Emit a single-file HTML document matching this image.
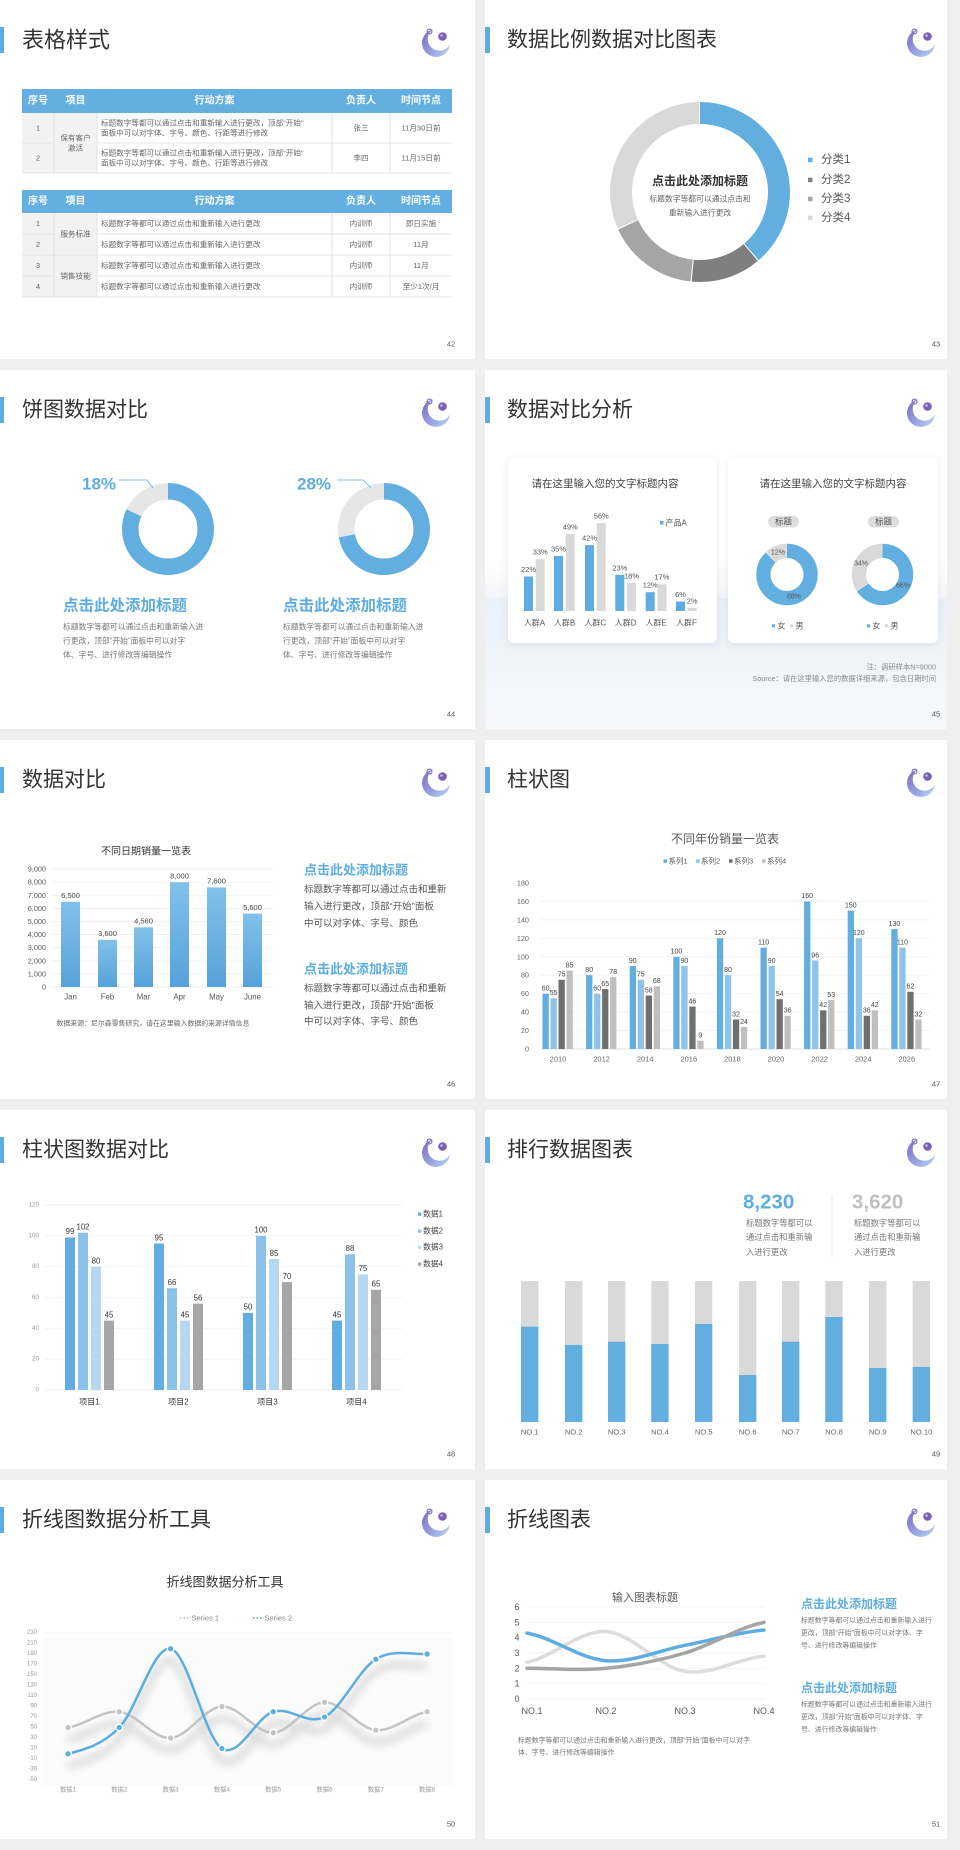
<!DOCTYPE html>
<html><head><meta charset="utf-8">
<style>
html,body{margin:0;padding:0;background:#efefef;}
svg{display:block;font-family:"Liberation Sans","Noto Sans CJK SC",sans-serif;}
.c{dominant-baseline:central;}
.m{text-anchor:middle;}
.e{text-anchor:end;}
</style></head>
<body>
<svg width="960" height="1850" viewBox="0 0 960 1850" xmlns="http://www.w3.org/2000/svg">
<defs>
  <linearGradient id="lg" x1="0" y1="0" x2="1" y2="1">
    <stop offset="0" stop-color="#7a66c2"/><stop offset="0.6" stop-color="#9aa6e0"/><stop offset="1" stop-color="#bcd9f5"/>
  </linearGradient>
  <linearGradient id="bg5" x1="0" y1="0" x2="0" y2="1">
    <stop offset="0" stop-color="#82c1ea"/><stop offset="1" stop-color="#56a2da"/>
  </linearGradient>
  <linearGradient id="bg4" x1="0" y1="0" x2="0" y2="1">
    <stop offset="0" stop-color="#eaf0f7"/><stop offset="1" stop-color="#f7f9fc"/>
  </linearGradient>
  <linearGradient id="bg4t" x1="0" y1="0" x2="0" y2="1">
    <stop offset="0" stop-color="#ffffff"/><stop offset="1" stop-color="#f3f5f8"/>
  </linearGradient>
  <filter id="sh" x="-10%" y="-10%" width="120%" height="125%">
    <feDropShadow dx="0" dy="2" stdDeviation="4" flood-color="#000" flood-opacity="0.08"/>
  </filter>
  <filter id="blur" x="-10%" y="-30%" width="120%" height="160%">
    <feGaussianBlur stdDeviation="4"/>
  </filter>
  <g id="logo">
    <circle cx="436" cy="43" r="14" fill="url(#lg)"/>
    <circle cx="439.5" cy="39" r="11.8" fill="#fff"/>
    <circle cx="429.5" cy="31.5" r="2.4" fill="none" stroke="#8473c6" stroke-width="1.3"/>
    <circle cx="442.5" cy="36.5" r="4.3" fill="#7a5fb6"/>
    <circle cx="441.5" cy="35.5" r="1.3" fill="#c9b8ea"/>
  </g>
</defs>

<!-- ================= SLIDE 1 : 表格样式 ================= -->
<g transform="translate(0,0)">
  <rect width="475" height="359" fill="#fff"/>
  <rect x="0" y="27" width="4" height="26" fill="#5dade2"/>
  <text x="22" y="40" class="c" font-size="22" fill="#333">表格样式</text>
  <use href="#logo"/>
  <text x="451" y="344" class="c m" font-size="7.5" fill="#555">42</text>

  <!-- table 1 -->
  <rect x="22" y="89" width="430" height="24" fill="#64afe2"/>
  <g font-size="10" font-weight="bold" fill="#fff" class="c m">
    <text x="38" y="101">序号</text><text x="75.5" y="101">项目</text><text x="214.5" y="101">行动方案</text>
    <text x="361" y="101">负责人</text><text x="421" y="101">时间节点</text>
  </g>
  <rect x="22" y="113" width="75" height="60" fill="#f2f2f2"/>
  <g stroke="#dcdcdc" stroke-width="0.8">
    <line x1="22" y1="143" x2="54" y2="143"/><line x1="97" y1="143" x2="452" y2="143"/>
    <line x1="22" y1="173" x2="452" y2="173"/>
    <line x1="54" y1="113" x2="54" y2="173"/><line x1="97" y1="113" x2="97" y2="173"/>
    <line x1="332" y1="113" x2="332" y2="173"/><line x1="390" y1="113" x2="390" y2="173"/>
  </g>
  <g font-size="7.6" fill="#666" class="c">
    <text x="38" y="128" class="m">1</text><text x="38" y="158" class="m">2</text>
    <text x="75.5" y="138" class="m">保有客户</text><text x="75.5" y="148" class="m">激活</text>
    <text x="101" y="123">标题数字等都可以通过点击和重新输入进行更改，顶部“开始”</text>
    <text x="101" y="133">面板中可以对字体、字号、颜色、行距等进行修改</text>
    <text x="101" y="153">标题数字等都可以通过点击和重新输入进行更改，顶部“开始”</text>
    <text x="101" y="163">面板中可以对字体、字号、颜色、行距等进行修改</text>
    <text x="361" y="128" class="m">张三</text><text x="361" y="158" class="m">李四</text>
    <text x="421" y="128" class="m">11月30日前</text><text x="421" y="158" class="m">11月15日前</text>
  </g>

  <!-- table 2 -->
  <rect x="22" y="190" width="430" height="23" fill="#64afe2"/>
  <g font-size="10" font-weight="bold" fill="#fff" class="c m">
    <text x="38" y="201.5">序号</text><text x="75.5" y="201.5">项目</text><text x="214.5" y="201.5">行动方案</text>
    <text x="361" y="201.5">负责人</text><text x="421" y="201.5">时间节点</text>
  </g>
  <rect x="22" y="213" width="75" height="84" fill="#f2f2f2"/>
  <g stroke="#dcdcdc" stroke-width="0.8">
    <line x1="22" y1="234" x2="54" y2="234"/><line x1="97" y1="234" x2="452" y2="234"/>
    <line x1="22" y1="255" x2="452" y2="255"/>
    <line x1="22" y1="276" x2="54" y2="276"/><line x1="97" y1="276" x2="452" y2="276"/>
    <line x1="22" y1="297" x2="452" y2="297"/>
    <line x1="54" y1="213" x2="54" y2="297"/><line x1="97" y1="213" x2="97" y2="297"/>
    <line x1="332" y1="213" x2="332" y2="297"/><line x1="390" y1="213" x2="390" y2="297"/>
  </g>
  <g font-size="7.6" fill="#666" class="c">
    <text x="38" y="223.5" class="m">1</text><text x="38" y="244.5" class="m">2</text>
    <text x="38" y="265.5" class="m">3</text><text x="38" y="286.5" class="m">4</text>
    <text x="75.5" y="234" class="m">服务标准</text><text x="75.5" y="276" class="m">销售技能</text>
    <text x="101" y="223.5">标题数字等都可以通过点击和重新输入进行更改</text>
    <text x="101" y="244.5">标题数字等都可以通过点击和重新输入进行更改</text>
    <text x="101" y="265.5">标题数字等都可以通过点击和重新输入进行更改</text>
    <text x="101" y="286.5">标题数字等都可以通过点击和重新输入进行更改</text>
    <text x="361" y="223.5" class="m">内训师</text><text x="361" y="244.5" class="m">内训师</text>
    <text x="361" y="265.5" class="m">内训师</text><text x="361" y="286.5" class="m">内训师</text>
    <text x="421" y="223.5" class="m">即日实施</text><text x="421" y="244.5" class="m">11月</text>
    <text x="421" y="265.5" class="m">11月</text><text x="421" y="286.5" class="m">至少1次/月</text>
  </g>
</g>

<!-- ================= SLIDE 2 : 数据比例数据对比图表 ================= -->
<g transform="translate(485,0)">
  <rect width="462" height="359" fill="#fff"/>
  <rect x="0" y="27" width="5" height="26" fill="#5dade2"/>
  <text x="22" y="40" class="c" font-size="21" fill="#333">数据比例数据对比图表</text>
  <use href="#logo"/>
  <text x="451" y="344" class="c m" font-size="7.5" fill="#555">43</text>

  <g transform="rotate(-90 215 192)" fill="none" stroke-width="22">
    <circle cx="215" cy="192" r="79" stroke="#62aee0" stroke-dasharray="192 1000" stroke-dashoffset="0"/>
    <circle cx="215" cy="192" r="79" stroke="#7f7f7f" stroke-dasharray="62.4 1000" stroke-dashoffset="-193"/>
    <circle cx="215" cy="192" r="79" stroke="#a5a5a5" stroke-dasharray="81.7 1000" stroke-dashoffset="-256.5"/>
    <circle cx="215" cy="192" r="79" stroke="#d9d9d9" stroke-dasharray="156.2 1000" stroke-dashoffset="-339.2"/>
  </g>
  <text x="215" y="181" class="c m" font-size="12" font-weight="bold" fill="#333">点击此处添加标题</text>
  <text x="215" y="199" class="c m" font-size="7.8" fill="#666">标题数字等都可以通过点击和</text>
  <text x="215" y="213" class="c m" font-size="7.8" fill="#666">重新输入进行更改</text>

  <rect x="323" y="157.7" width="4.5" height="4.5" fill="#62aee0"/>
  <rect x="323" y="177.7" width="4.5" height="4.5" fill="#7f7f7f"/>
  <rect x="323" y="196.7" width="4.5" height="4.5" fill="#a5a5a5"/>
  <rect x="323" y="215.7" width="4.5" height="4.5" fill="#d9d9d9"/>
  <g font-size="11.5" fill="#595959" class="c">
    <text x="336" y="160">分类1</text><text x="336" y="180">分类2</text>
    <text x="336" y="199">分类3</text><text x="336" y="218">分类4</text>
  </g>
</g>

<!-- ================= SLIDE 3 : 饼图数据对比 ================= -->
<g transform="translate(0,370)">
  <rect width="475" height="359" fill="#fff"/>
  <rect x="0" y="27" width="4" height="26" fill="#5dade2"/>
  <text x="22" y="40" class="c" font-size="21" fill="#333">饼图数据对比</text>
  <use href="#logo"/>
  <text x="451" y="344" class="c m" font-size="7.5" fill="#555">44</text>

  <g transform="rotate(-90 168 159)" fill="none" stroke-width="16.5">
    <circle cx="168" cy="159" r="37.75" stroke="#62aee0" stroke-dasharray="194.5 1000"/>
    <circle cx="168" cy="159" r="37.75" stroke="#e6e6e6" stroke-dasharray="42.7 1000" stroke-dashoffset="-194.5"/>
  </g>
  <g transform="rotate(-90 384 159)" fill="none" stroke-width="16.5">
    <circle cx="384" cy="159" r="37.75" stroke="#62aee0" stroke-dasharray="170.8 1000"/>
    <circle cx="384" cy="159" r="37.75" stroke="#e6e6e6" stroke-dasharray="66.4 1000" stroke-dashoffset="-170.8"/>
  </g>
  <text x="82" y="114" class="c" font-size="17" font-weight="bold" fill="#5dade2">18%</text>
  <polyline points="119,110 147,110 153,118" fill="none" stroke="#5dade2" stroke-width="0.8"/>
  <text x="297" y="114" class="c" font-size="17" font-weight="bold" fill="#5dade2">28%</text>
  <polyline points="337,110 363,110 371,118" fill="none" stroke="#5dade2" stroke-width="0.8"/>

  <text x="63" y="236" class="c" font-size="15.5" font-weight="bold" fill="#5dade2">点击此处添加标题</text>
  <g font-size="7.8" fill="#777" class="c">
    <text x="63" y="257">标题数字等都可以通过点击和重新输入进</text>
    <text x="63" y="271">行更改，顶部“开始”面板中可以对字</text>
    <text x="63" y="285">体、字号、进行修改等编辑操作</text>
  </g>
  <text x="283" y="236" class="c" font-size="15.5" font-weight="bold" fill="#5dade2">点击此处添加标题</text>
  <g font-size="7.8" fill="#777" class="c">
    <text x="283" y="257">标题数字等都可以通过点击和重新输入进</text>
    <text x="283" y="271">行更改，顶部“开始”面板中可以对字</text>
    <text x="283" y="285">体、字号、进行修改等编辑操作</text>
  </g>
</g>

<!-- ================= SLIDE 4 : 数据对比分析 ================= -->
<g transform="translate(485,370)">
  <rect width="462" height="359" fill="#fff"/>
  <rect x="0" y="190" width="462" height="38" fill="url(#bg4t)"/>
  <rect x="0" y="228" width="462" height="131" fill="url(#bg4)"/>
  <rect x="0" y="27" width="5" height="26" fill="#5dade2"/>
  <text x="22" y="40" class="c" font-size="21" fill="#333">数据对比分析</text>
  <use href="#logo"/>
  <text x="451" y="344" class="c m" font-size="7.5" fill="#555">45</text>

  <rect x="23" y="88" width="209" height="185" rx="6" fill="#fff" filter="url(#sh)"/>
  <rect x="243" y="88" width="210" height="185" rx="6" fill="#fff" filter="url(#sh)"/>

  <text x="120" y="114" class="c m" font-size="10.5" fill="#444">请在这里输入您的文字标题内容</text>
  <g fill="#5dade2">
    <rect x="39" y="206.5" width="9" height="34.5"/>
    <rect x="69" y="186" width="9" height="55"/>
    <rect x="100" y="175.1" width="9" height="65.9"/>
    <rect x="130.3" y="204.9" width="9" height="36.1"/>
    <rect x="160.7" y="222.2" width="9" height="18.8"/>
    <rect x="191" y="231.6" width="9" height="9.4"/>
  </g>
  <g fill="#d9d9d9">
    <rect x="50.7" y="189.2" width="9" height="51.8"/>
    <rect x="80.7" y="164.1" width="9" height="76.9"/>
    <rect x="111.7" y="153.1" width="9" height="87.9"/>
    <rect x="142" y="212.7" width="9" height="28.3"/>
    <rect x="172.4" y="214.3" width="9" height="26.7"/>
    <rect x="202.7" y="237.9" width="9" height="3.1"/>
  </g>
  <g font-size="7.5" fill="#555" class="c m">
    <text x="43.5" y="199.5">22%</text><text x="55.2" y="182">33%</text>
    <text x="73.5" y="179">35%</text><text x="85.2" y="157">49%</text>
    <text x="104.5" y="168">42%</text><text x="116.2" y="146">56%</text>
    <text x="134.8" y="198">23%</text><text x="146.5" y="206">18%</text>
    <text x="165.2" y="215">12%</text><text x="176.9" y="207">17%</text>
    <text x="195.5" y="224.5">6%</text><text x="207.2" y="231">2%</text>
  </g>
  <g font-size="8" fill="#555" class="c m">
    <text x="49.4" y="253">人群A</text><text x="79.5" y="253">人群B</text><text x="110.3" y="253">人群C</text>
    <text x="140.6" y="253">人群D</text><text x="171" y="253">人群E</text><text x="201.5" y="253">人群F</text>
  </g>
  <rect x="175" y="151" width="3.5" height="3.5" fill="#5dade2"/>
  <text x="180.5" y="153" class="c" font-size="8" fill="#555">产品A</text>

  <text x="348" y="114" class="c m" font-size="10.5" fill="#444">请在这里输入您的文字标题内容</text>
  <rect x="283" y="146" width="31" height="11.5" rx="5.7" fill="#dedede"/>
  <text x="298.5" y="151.7" class="c m" font-size="8.5" fill="#555">标题</text>
  <rect x="383" y="146" width="31" height="11.5" rx="5.7" fill="#dedede"/>
  <text x="398.5" y="151.7" class="c m" font-size="8.5" fill="#555">标题</text>

  <g transform="rotate(-90 302 204.5)" fill="none" stroke-width="14.2">
    <circle cx="302" cy="204.5" r="23.6" stroke="#62aee0" stroke-dasharray="130 1000"/>
    <circle cx="302" cy="204.5" r="23.6" stroke="#d9d9d9" stroke-dasharray="17.3 1000" stroke-dashoffset="-130.5"/>
  </g>
  <g transform="rotate(-90 397.5 204.5)" fill="none" stroke-width="14.2">
    <circle cx="397.5" cy="204.5" r="23.6" stroke="#62aee0" stroke-dasharray="97.4 1000"/>
    <circle cx="397.5" cy="204.5" r="23.6" stroke="#d9d9d9" stroke-dasharray="49.9 1000" stroke-dashoffset="-97.9"/>
  </g>
  <g font-size="7" fill="#555" class="c m">
    <text x="293" y="183">12%</text><text x="309" y="227">88%</text>
    <text x="376" y="194">34%</text><text x="418" y="216">66%</text>
  </g>
  <rect x="287" y="254.3" width="3" height="3" fill="#5dade2"/>
  <text x="292.5" y="256" class="c" font-size="8" fill="#555">女</text>
  <rect x="305" y="254.3" width="3" height="3" fill="#d9d9d9"/>
  <text x="310.5" y="256" class="c" font-size="8" fill="#555">男</text>
  <rect x="382" y="254.3" width="3" height="3" fill="#5dade2"/>
  <text x="387.5" y="256" class="c" font-size="8" fill="#555">女</text>
  <rect x="400" y="254.3" width="3" height="3" fill="#d9d9d9"/>
  <text x="405.5" y="256" class="c" font-size="8" fill="#555">男</text>

  <text x="451" y="297" class="c e" font-size="7.3" fill="#888">注：调研样本N=9000</text>
  <text x="451" y="308.5" class="c e" font-size="7.3" fill="#888">Source：请在这里输入您的数据详细来源，包含日期时间</text>
</g>

<!-- ================= SLIDE 5 : 数据对比 ================= -->
<g transform="translate(0,740)">
  <rect width="475" height="359" fill="#fff"/>
  <rect x="0" y="27" width="4" height="26" fill="#5dade2"/>
  <text x="22" y="40" class="c" font-size="21" fill="#333">数据对比</text>
  <use href="#logo"/>
  <text x="451" y="344" class="c m" font-size="7.5" fill="#555">46</text>

  <text x="146" y="112" class="c m" font-size="10" fill="#333">不同日期销量一览表</text>
  <g stroke="#ececec" stroke-width="0.7">
    <line x1="52" y1="129.1" x2="273" y2="129.1"/><line x1="52" y1="142.2" x2="273" y2="142.2"/>
    <line x1="52" y1="155.3" x2="273" y2="155.3"/><line x1="52" y1="168.4" x2="273" y2="168.4"/>
    <line x1="52" y1="181.5" x2="273" y2="181.5"/><line x1="52" y1="194.6" x2="273" y2="194.6"/>
    <line x1="52" y1="207.7" x2="273" y2="207.7"/><line x1="52" y1="220.8" x2="273" y2="220.8"/>
    <line x1="52" y1="233.9" x2="273" y2="233.9"/><line x1="52" y1="247" x2="273" y2="247"/>
  </g>
  <g font-size="7.3" fill="#555" class="c e">
    <text x="46" y="129.1">9,000</text><text x="46" y="142.2">8,000</text><text x="46" y="155.3">7,000</text>
    <text x="46" y="168.4">6,000</text><text x="46" y="181.5">5,000</text><text x="46" y="194.6">4,000</text>
    <text x="46" y="207.7">3,000</text><text x="46" y="220.8">2,000</text><text x="46" y="233.9">1,000</text>
    <text x="46" y="247">0</text>
  </g>
  <g fill="url(#bg5)">
    <rect x="61" y="161.8" width="19" height="85.2"/>
    <rect x="98" y="199.8" width="19" height="47.2"/>
    <rect x="134" y="187.3" width="19" height="59.7"/>
    <rect x="170" y="142.2" width="19" height="104.8"/>
    <rect x="207" y="147.4" width="19" height="99.6"/>
    <rect x="243" y="173.6" width="19" height="73.4"/>
  </g>
  <g font-size="7.5" fill="#444" class="c m">
    <text x="70.5" y="155.5">6,500</text><text x="107.5" y="193.5">3,600</text><text x="143.5" y="181">4,560</text>
    <text x="179.5" y="136">8,000</text><text x="216.5" y="141">7,600</text><text x="252.5" y="167.5">5,600</text>
  </g>
  <g font-size="7.8" fill="#555" class="c m">
    <text x="70.5" y="257">Jan</text><text x="107.5" y="257">Feb</text><text x="143.5" y="257">Mar</text>
    <text x="179.5" y="257">Apr</text><text x="216.5" y="257">May</text><text x="252.5" y="257">June</text>
  </g>
  <text x="153" y="284" class="c m" font-size="6.9" fill="#666">数据来源：尼尔森零售研究，请在这里输入数据的来源详情信息</text>

  <text x="304" y="130" class="c" font-size="13" font-weight="bold" fill="#5dade2">点击此处添加标题</text>
  <g font-size="9.5" fill="#555" class="c">
    <text x="304" y="150">标题数字等都可以通过点击和重新</text>
    <text x="304" y="167">输入进行更改，顶部“开始”面板</text>
    <text x="304" y="184">中可以对字体、字号、颜色</text>
  </g>
  <text x="304" y="229" class="c" font-size="13" font-weight="bold" fill="#5dade2">点击此处添加标题</text>
  <g font-size="9.5" fill="#555" class="c">
    <text x="304" y="249">标题数字等都可以通过点击和重新</text>
    <text x="304" y="266">输入进行更改，顶部“开始”面板</text>
    <text x="304" y="282">中可以对字体、字号、颜色</text>
  </g>
</g>

<!-- ================= SLIDE 6 : 柱状图 ================= -->
<g transform="translate(485,740)">
  <rect width="462" height="359" fill="#fff"/>
  <rect x="0" y="27" width="5" height="26" fill="#5dade2"/>
  <text x="22" y="40" class="c" font-size="21" fill="#333">柱状图</text>
  <use href="#logo"/>
  <text x="451" y="344" class="c m" font-size="7.5" fill="#555">47</text>

  <text x="240" y="99" class="c m" font-size="12" fill="#595959">不同年份销量一览表</text>
  <rect x="178.5" y="119.3" width="3.5" height="3.5" fill="#62aee0"/>
  <text x="183.5" y="121" class="c" font-size="7.5" fill="#595959">系列1</text>
  <rect x="211" y="119.3" width="3.5" height="3.5" fill="#8fc3ea"/>
  <text x="216" y="121" class="c" font-size="7.5" fill="#595959">系列2</text>
  <rect x="244" y="119.3" width="3.5" height="3.5" fill="#6f6f6f"/>
  <text x="249" y="121" class="c" font-size="7.5" fill="#595959">系列3</text>
  <rect x="277" y="119.3" width="3.5" height="3.5" fill="#bfbfbf"/>
  <text x="282" y="121" class="c" font-size="7.5" fill="#595959">系列4</text>

  <g stroke="#efefef" stroke-width="0.7">
    <line x1="55" y1="161.4" x2="445" y2="161.4"/><line x1="55" y1="179.9" x2="445" y2="179.9"/>
    <line x1="55" y1="198.3" x2="445" y2="198.3"/><line x1="55" y1="216.8" x2="445" y2="216.8"/>
    <line x1="55" y1="235.2" x2="445" y2="235.2"/><line x1="55" y1="253.7" x2="445" y2="253.7"/>
    <line x1="55" y1="272.1" x2="445" y2="272.1"/><line x1="55" y1="290.6" x2="445" y2="290.6"/>
  </g>
  <line x1="55" y1="309" x2="445" y2="309" stroke="#d9d9d9" stroke-width="0.8"/>
  <g font-size="7.3" fill="#666" class="c e">
    <text x="44" y="143">180</text><text x="44" y="161.4">160</text><text x="44" y="179.9">140</text>
    <text x="44" y="198.3">120</text><text x="44" y="216.8">100</text><text x="44" y="235.2">80</text>
    <text x="44" y="253.7">60</text><text x="44" y="272.1">40</text><text x="44" y="290.6">20</text>
    <text x="44" y="309">0</text>
  </g>
  <!-- series 1 -->
  <g fill="#62aee0">
    <rect x="57.5" y="253.7" width="6.3" height="55.3"/><rect x="101.1" y="235.2" width="6.3" height="73.8"/>
    <rect x="144.7" y="226" width="6.3" height="83"/><rect x="188.3" y="216.8" width="6.3" height="92.2"/>
    <rect x="231.9" y="198.3" width="6.3" height="110.7"/><rect x="275.5" y="207.6" width="6.3" height="101.4"/>
    <rect x="319.1" y="161.4" width="6.3" height="147.6"/><rect x="362.7" y="170.7" width="6.3" height="138.3"/>
    <rect x="406.3" y="189.1" width="6.3" height="119.9"/>
  </g>
  <g fill="#8fc3ea">
    <rect x="65.5" y="258.3" width="6.3" height="50.7"/><rect x="109.1" y="253.7" width="6.3" height="55.3"/>
    <rect x="152.7" y="239.8" width="6.3" height="69.2"/><rect x="196.3" y="226" width="6.3" height="83"/>
    <rect x="239.9" y="235.2" width="6.3" height="73.8"/><rect x="283.5" y="226" width="6.3" height="83"/>
    <rect x="327.1" y="220.5" width="6.3" height="88.5"/><rect x="370.7" y="198.3" width="6.3" height="110.7"/>
    <rect x="414.3" y="207.6" width="6.3" height="101.4"/>
  </g>
  <g fill="#6f6f6f">
    <rect x="73.5" y="239.8" width="6.3" height="69.2"/><rect x="117.1" y="249.1" width="6.3" height="59.9"/>
    <rect x="160.7" y="255.5" width="6.3" height="53.5"/><rect x="204.3" y="266.6" width="6.3" height="42.4"/>
    <rect x="247.9" y="279.5" width="6.3" height="29.5"/><rect x="291.5" y="259.2" width="6.3" height="49.8"/>
    <rect x="335.1" y="270.3" width="6.3" height="38.7"/><rect x="378.7" y="275.8" width="6.3" height="33.2"/>
    <rect x="422.3" y="251.8" width="6.3" height="57.2"/>
  </g>
  <g fill="#bfbfbf">
    <rect x="81.5" y="230.6" width="6.3" height="78.4"/><rect x="125.1" y="237.1" width="6.3" height="71.9"/>
    <rect x="168.7" y="246.3" width="6.3" height="62.7"/><rect x="212.3" y="300.7" width="6.3" height="8.3"/>
    <rect x="255.9" y="286.9" width="6.3" height="22.1"/><rect x="299.5" y="275.8" width="6.3" height="33.2"/>
    <rect x="343.1" y="260.1" width="6.3" height="48.9"/><rect x="386.7" y="270.3" width="6.3" height="38.7"/>
    <rect x="430.3" y="279.5" width="6.3" height="29.5"/>
  </g>
  <g font-size="7" fill="#444" class="m">
    <text x="60.6" y="250.5">60</text><text x="68.6" y="255">55</text><text x="76.6" y="236.5">75</text><text x="84.6" y="227.5">85</text>
    <text x="104.2" y="232">80</text><text x="112.2" y="250.5">60</text><text x="120.2" y="246">65</text><text x="128.2" y="234">78</text>
    <text x="147.8" y="223">90</text><text x="155.8" y="236.5">75</text><text x="163.8" y="252.5">58</text><text x="171.8" y="243">68</text>
    <text x="191.4" y="213.5">100</text><text x="199.4" y="223">90</text><text x="207.4" y="263.5">46</text><text x="215.4" y="297.5">9</text>
    <text x="235" y="195">120</text><text x="243" y="232">80</text><text x="251" y="276.5">32</text><text x="259" y="284">24</text>
    <text x="278.6" y="204.5">110</text><text x="286.6" y="223">90</text><text x="294.6" y="256">54</text><text x="302.6" y="272.5">36</text>
    <text x="322.2" y="158">160</text><text x="330.2" y="217.5">96</text><text x="338.2" y="267">42</text><text x="346.2" y="257">53</text>
    <text x="365.8" y="167.5">150</text><text x="373.8" y="195">120</text><text x="381.8" y="272.5">36</text><text x="389.8" y="267">42</text>
    <text x="409.4" y="186">130</text><text x="417.4" y="204.5">110</text><text x="425.4" y="248.5">62</text><text x="433.4" y="276.5">32</text>
  </g>
  <g font-size="7.5" fill="#666" class="c m">
    <text x="73" y="319">2010</text><text x="116.6" y="319">2012</text><text x="160.2" y="319">2014</text>
    <text x="203.8" y="319">2016</text><text x="247.4" y="319">2018</text><text x="291" y="319">2020</text>
    <text x="334.6" y="319">2022</text><text x="378.2" y="319">2024</text><text x="421.8" y="319">2026</text>
  </g>
</g>

<!-- ================= SLIDE 7 : 柱状图数据对比 ================= -->
<g transform="translate(0,1110)">
  <rect width="475" height="359" fill="#fff"/>
  <rect x="0" y="27" width="4" height="26" fill="#5dade2"/>
  <text x="22" y="40" class="c" font-size="21" fill="#333">柱状图数据对比</text>
  <use href="#logo"/>
  <text x="451" y="344" class="c m" font-size="7.5" fill="#555">48</text>

  <g stroke="#eeeeee" stroke-width="0.7">
    <line x1="45" y1="95" x2="402" y2="95"/><line x1="45" y1="125.8" x2="402" y2="125.8"/>
    <line x1="45" y1="156.7" x2="402" y2="156.7"/><line x1="45" y1="187.5" x2="402" y2="187.5"/>
    <line x1="45" y1="218.3" x2="402" y2="218.3"/><line x1="45" y1="249.2" x2="402" y2="249.2"/>
    <line x1="45" y1="280" x2="402" y2="280"/>
  </g>
  <g font-size="6.3" fill="#999" class="c e">
    <text x="39" y="95">120</text><text x="39" y="125.8">100</text><text x="39" y="156.7">80</text>
    <text x="39" y="187.5">60</text><text x="39" y="218.3">40</text><text x="39" y="249.2">20</text>
    <text x="39" y="280">0</text>
  </g>
  <g fill="#62aee0">
    <rect x="65" y="127.4" width="10" height="152.6"/><rect x="154" y="133.5" width="10" height="146.5"/>
    <rect x="243" y="202.9" width="10" height="77.1"/><rect x="332" y="210.6" width="10" height="69.4"/>
  </g>
  <g fill="#8cc1e9">
    <rect x="78" y="122.7" width="10" height="157.3"/><rect x="167" y="178.2" width="10" height="101.8"/>
    <rect x="256" y="125.8" width="10" height="154.2"/><rect x="345" y="144.3" width="10" height="135.7"/>
  </g>
  <g fill="#b5d7f1">
    <rect x="91" y="156.7" width="10" height="123.3"/><rect x="180" y="210.6" width="10" height="69.4"/>
    <rect x="269" y="149" width="10" height="131"/><rect x="358" y="164.4" width="10" height="115.6"/>
  </g>
  <g fill="#a6a6a6">
    <rect x="104" y="210.6" width="10" height="69.4"/><rect x="193" y="193.7" width="10" height="86.3"/>
    <rect x="282" y="172.1" width="10" height="107.9"/><rect x="371" y="179.8" width="10" height="100.2"/>
  </g>
  <g font-size="7.8" fill="#333" class="m">
    <text x="70" y="124">99</text><text x="83" y="119.5">102</text><text x="96" y="153.5">80</text><text x="109" y="207.5">45</text>
    <text x="159" y="130.5">95</text><text x="172" y="175">66</text><text x="185" y="207.5">45</text><text x="198" y="190.5">56</text>
    <text x="248" y="199.5">50</text><text x="261" y="122.5">100</text><text x="274" y="146">85</text><text x="287" y="169">70</text>
    <text x="337" y="207.5">45</text><text x="350" y="141">88</text><text x="363" y="161">75</text><text x="376" y="176.5">65</text>
  </g>
  <g font-size="8" fill="#333" class="c m">
    <text x="89.5" y="292">项目1</text><text x="178.5" y="292">项目2</text>
    <text x="267.5" y="292">项目3</text><text x="356.5" y="292">项目4</text>
  </g>
  <rect x="418" y="102.5" width="3.3" height="3.3" fill="#62aee0"/>
  <rect x="418" y="119.5" width="3.3" height="3.3" fill="#8cc1e9"/>
  <rect x="418" y="135.5" width="3.3" height="3.3" fill="#b5d7f1"/>
  <rect x="418" y="152.5" width="3.3" height="3.3" fill="#a6a6a6"/>
  <g font-size="7.8" fill="#444" class="c">
    <text x="423" y="104">数据1</text><text x="423" y="121">数据2</text>
    <text x="423" y="137">数据3</text><text x="423" y="154">数据4</text>
  </g>
</g>

<!-- ================= SLIDE 8 : 排行数据图表 ================= -->
<g transform="translate(485,1110)">
  <rect width="462" height="359" fill="#fff"/>
  <rect x="0" y="27" width="5" height="26" fill="#5dade2"/>
  <text x="22" y="40" class="c" font-size="21" fill="#333">排行数据图表</text>
  <use href="#logo"/>
  <text x="451" y="344" class="c m" font-size="7.5" fill="#555">49</text>

  <text x="258" y="92" class="c" font-size="20.5" font-weight="bold" fill="#5dade2">8,230</text>
  <g font-size="8.3" fill="#777" class="c">
    <text x="261" y="113">标题数字等都可以</text><text x="261" y="127">通过点击和重新输</text><text x="261" y="142">入进行更改</text>
  </g>
  <line x1="347" y1="85" x2="347" y2="148" stroke="#e6e6e6" stroke-width="0.8"/>
  <text x="367" y="92" class="c" font-size="20.5" font-weight="bold" fill="#bfbfbf">3,620</text>
  <g font-size="8.3" fill="#777" class="c">
    <text x="369" y="113">标题数字等都可以</text><text x="369" y="127">通过点击和重新输</text><text x="369" y="142">入进行更改</text>
  </g>

  <g fill="#d9d9d9">
    <rect x="36" y="171" width="17.3" height="141"/><rect x="80" y="171" width="17.3" height="141"/>
    <rect x="123" y="171" width="17.3" height="141"/><rect x="166.3" y="171" width="17.3" height="141"/>
    <rect x="210" y="171" width="17.3" height="141"/><rect x="254" y="171" width="17.3" height="141"/>
    <rect x="297" y="171" width="17.3" height="141"/><rect x="340.3" y="171" width="17.3" height="141"/>
    <rect x="384" y="171" width="17.3" height="141"/><rect x="427.7" y="171" width="17.3" height="141"/>
  </g>
  <g fill="#62aee0">
    <rect x="36" y="216.7" width="17.3" height="95.3"/><rect x="80" y="235" width="17.3" height="77"/>
    <rect x="123" y="231.7" width="17.3" height="80.3"/><rect x="166.3" y="234" width="17.3" height="78"/>
    <rect x="210" y="214" width="17.3" height="98"/><rect x="254" y="265" width="17.3" height="47"/>
    <rect x="297" y="231.7" width="17.3" height="80.3"/><rect x="340.3" y="207" width="17.3" height="105"/>
    <rect x="384" y="258" width="17.3" height="54"/><rect x="427.7" y="257" width="17.3" height="55"/>
  </g>
  <g font-size="7.6" fill="#666" class="c m">
    <text x="44.7" y="322">NO.1</text><text x="88.7" y="322">NO.2</text><text x="131.7" y="322">NO.3</text>
    <text x="175" y="322">NO.4</text><text x="218.7" y="322">NO.5</text><text x="262.7" y="322">NO.6</text>
    <text x="305.7" y="322">NO.7</text><text x="349" y="322">NO.8</text><text x="392.7" y="322">NO.9</text>
    <text x="436.4" y="322">NO.10</text>
  </g>
</g>

<!-- ================= SLIDE 9 : 折线图数据分析工具 ================= -->
<g transform="translate(0,1480)">
  <rect width="475" height="359" fill="#fff"/>
  <rect x="0" y="27" width="4" height="26" fill="#5dade2"/>
  <text x="22" y="40" class="c" font-size="21" fill="#333">折线图数据分析工具</text>
  <use href="#logo"/>
  <text x="451" y="344" class="c m" font-size="7.5" fill="#555">50</text>

  <text x="225" y="102" class="c m" font-size="13" fill="#333">折线图数据分析工具</text>
  <line x1="180" y1="138" x2="191" y2="138" stroke="#bfbfbf" stroke-width="1.5" stroke-dasharray="1.5 2"/>
  <text x="191.5" y="138" class="c" font-size="7.5" fill="#888">Series 1</text>
  <line x1="253" y1="138" x2="264" y2="138" stroke="#5dade2" stroke-width="1.5" stroke-dasharray="1.5 2"/>
  <text x="264.5" y="138" class="c" font-size="7.5" fill="#888">Series 2</text>

  <rect x="43" y="158" width="410" height="148" fill="#fbfbfb"/>
  <line x1="43" y1="153" x2="453" y2="153" stroke="#f0f0f0" stroke-width="0.7"/>
  <g font-size="6" fill="#999" class="c e">
    <text x="37" y="153">230</text><text x="37" y="163.5">210</text><text x="37" y="174">190</text>
    <text x="37" y="184.5">170</text><text x="37" y="195">150</text><text x="37" y="205.5">130</text>
    <text x="37" y="216">110</text><text x="37" y="226.5">90</text><text x="37" y="237">70</text>
    <text x="37" y="247.5">50</text><text x="37" y="258">30</text><text x="37" y="268.5">10</text>
    <text x="37" y="279">-10</text><text x="37" y="289.5">-30</text><text x="37" y="300">-50</text>
  </g>
  <g filter="url(#blur)" opacity="0.18" fill="none" stroke-width="7" transform="translate(0,12)">
    <path d="M68,247.5 C85.1,244.875 102.2,230 119.3,231.75 C136.4,233.5 153.5,258.875 170.6,258 C187.7,257.125 204.8,227.375 221.9,226.5 C239,225.625 256.1,253.45 273.2,252.75 C290.3,252.05 307.4,222.74 324.5,222.3 C341.6,221.86 358.7,248.525 375.8,250.1 C392.9,251.675 410,234.81 427.1,231.75" stroke="#555"/>
    <path d="M68,273.75 C85.1,269.375 102.2,265 119.3,247.5 C136.4,230 153.5,165.25 170.6,168.75 C187.7,172.25 204.8,258 221.9,268.5 C239,279 256.1,237 273.2,231.75 C290.3,226.5 307.4,245.75 324.5,237 C341.6,228.25 358.7,189.75 375.8,179.25 C392.9,168.75 410,174.875 427.1,174" stroke="#555"/>
  </g>
  <path d="M68,247.5 C85.1,244.875 102.2,230 119.3,231.75 C136.4,233.5 153.5,258.875 170.6,258 C187.7,257.125 204.8,227.375 221.9,226.5 C239,225.625 256.1,253.45 273.2,252.75 C290.3,252.05 307.4,222.74 324.5,222.3 C341.6,221.86 358.7,248.525 375.8,250.1 C392.9,251.675 410,234.81 427.1,231.75" fill="none" stroke="#c4c4c4" stroke-width="2.5"/>
  <path d="M68,273.75 C85.1,269.375 102.2,265 119.3,247.5 C136.4,230 153.5,165.25 170.6,168.75 C187.7,172.25 204.8,258 221.9,268.5 C239,279 256.1,237 273.2,231.75 C290.3,226.5 307.4,245.75 324.5,237 C341.6,228.25 358.7,189.75 375.8,179.25 C392.9,168.75 410,174.875 427.1,174" fill="none" stroke="#5dade2" stroke-width="2.5"/>
  <g fill="#c4c4c4" stroke="#fff" stroke-width="1.3">
    <circle cx="68" cy="247.5" r="3.3"/><circle cx="119.3" cy="231.75" r="3.3"/><circle cx="170.6" cy="258" r="3.3"/>
    <circle cx="221.9" cy="226.5" r="3.3"/><circle cx="273.2" cy="252.75" r="3.3"/><circle cx="324.5" cy="222.3" r="3.3"/>
    <circle cx="375.8" cy="250.1" r="3.3"/><circle cx="427.1" cy="231.75" r="3.3"/>
  </g>
  <g fill="#5dade2" stroke="#fff" stroke-width="1.3">
    <circle cx="68" cy="273.75" r="3.3"/><circle cx="119.3" cy="247.5" r="3.3"/><circle cx="170.6" cy="168.75" r="3.3"/>
    <circle cx="221.9" cy="268.5" r="3.3"/><circle cx="273.2" cy="231.75" r="3.3"/><circle cx="324.5" cy="237" r="3.3"/>
    <circle cx="375.8" cy="179.25" r="3.3"/><circle cx="427.1" cy="174" r="3.3"/>
  </g>
  <g font-size="6.3" fill="#999" class="c m">
    <text x="68" y="310">数据1</text><text x="119.3" y="310">数据2</text><text x="170.6" y="310">数据3</text>
    <text x="221.9" y="310">数据4</text><text x="273.2" y="310">数据5</text><text x="324.5" y="310">数据6</text>
    <text x="375.8" y="310">数据7</text><text x="427.1" y="310">数据8</text>
  </g>
</g>

<!-- ================= SLIDE 10 : 折线图表 ================= -->
<g transform="translate(485,1480)">
  <rect width="462" height="359" fill="#fff"/>
  <rect x="0" y="27" width="5" height="26" fill="#5dade2"/>
  <text x="22" y="40" class="c" font-size="21" fill="#333">折线图表</text>
  <use href="#logo"/>
  <text x="451" y="344" class="c m" font-size="7.5" fill="#555">51</text>

  <text x="160" y="118" class="c m" font-size="11" fill="#595959">输入图表标题</text>
  <g stroke="#efefef" stroke-width="0.7">
    <line x1="42" y1="127" x2="280" y2="127"/><line x1="42" y1="142.3" x2="280" y2="142.3"/>
    <line x1="42" y1="157.7" x2="280" y2="157.7"/><line x1="42" y1="173" x2="280" y2="173"/>
    <line x1="42" y1="188.3" x2="280" y2="188.3"/><line x1="42" y1="203.7" x2="280" y2="203.7"/>
    <line x1="42" y1="219" x2="280" y2="219"/>
  </g>
  <g font-size="9" fill="#595959" class="c m">
    <text x="32" y="127">6</text><text x="32" y="142.3">5</text><text x="32" y="157.7">4</text>
    <text x="32" y="173">3</text><text x="32" y="188.3">2</text><text x="32" y="203.7">1</text>
    <text x="32" y="219">0</text>
  </g>
  <path d="M42,182.2 C68.33,177.08 94.67,149.97 121,151.5 C147.33,153.03 173.67,187.3 200,191.4 C226.33,195.5 252.67,178.65 279,176.1" fill="none" stroke="#dcdcdc" stroke-width="3.5" stroke-linecap="round"/>
  <path d="M42,153.1 C68.33,157.7 94.67,178.67 121,180.7 C147.33,182.73 173.67,170.42 200,165.3 C226.33,160.18 252.67,152.55 279,150" fill="none" stroke="#5dade2" stroke-width="3.5" stroke-linecap="round"/>
  <path d="M42,188.3 C68.33,188.3 94.67,190.85 121,188.3 C147.33,185.75 173.67,180.66 200,173 C226.33,165.34 252.67,147.46 279,142.35" fill="none" stroke="#a5a5a5" stroke-width="3.5" stroke-linecap="round"/>
  <g font-size="9" fill="#595959" class="c m">
    <text x="47" y="231">NO.1</text><text x="121" y="231">NO.2</text><text x="200" y="231">NO.3</text><text x="279" y="231">NO.4</text>
  </g>
  <g font-size="6.9" fill="#777" class="c">
    <text x="33" y="261">标题数字等都可以通过点击和重新输入进行更改，顶部“开始”面板中可以对字</text>
    <text x="33" y="273">体、字号、进行修改等编辑操作</text>
  </g>

  <text x="316" y="124" class="c" font-size="12" font-weight="bold" fill="#5dade2">点击此处添加标题</text>
  <g font-size="6.9" fill="#777" class="c">
    <text x="316" y="141">标题数字等都可以通过点击和重新输入进行</text>
    <text x="316" y="153.5">更改，顶部“开始”面板中可以对字体、字</text>
    <text x="316" y="166">号、进行修改等编辑操作</text>
  </g>
  <text x="316" y="208" class="c" font-size="12" font-weight="bold" fill="#5dade2">点击此处添加标题</text>
  <g font-size="6.9" fill="#777" class="c">
    <text x="316" y="225">标题数字等都可以通过点击和重新输入进行</text>
    <text x="316" y="237.5">更改，顶部“开始”面板中可以对字体、字</text>
    <text x="316" y="250">号、进行修改等编辑操作</text>
  </g>
</g>
</svg>
</body></html>
